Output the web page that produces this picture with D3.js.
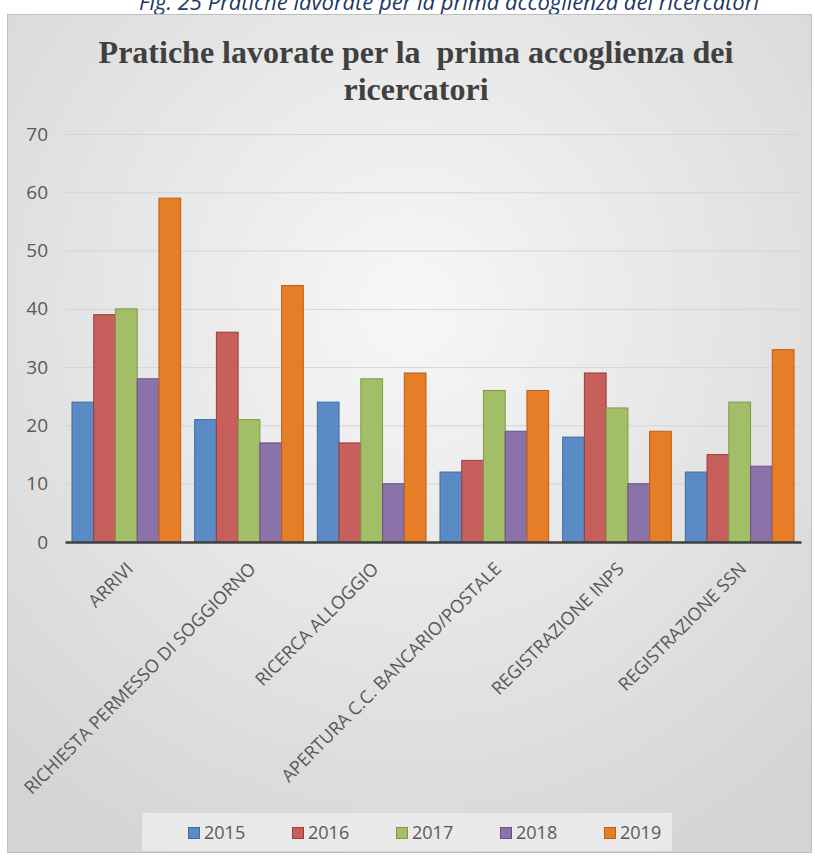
<!DOCTYPE html>
<html><head><meta charset="utf-8">
<script src="https://cdn.jsdelivr.net/npm/d3@7"></script>
<style>html,body{margin:0;padding:0;background:#fff;}svg{display:block;}</style>
</head><body>
<script>
const categories = ["ARRIVI","RICHIESTA PERMESSO DI SOGGIORNO","RICERCA ALLOGGIO","APERTURA C.C. BANCARIO/POSTALE","REGISTRAZIONE INPS","REGISTRAZIONE SSN"];
const years = ["2015","2016","2017","2018","2019"];
const v2015 = [24,21,24,12,18,12];
const v2016 = [39,36,17,14,29,15];
const v2017 = [40,21,28,26,23,24];
const v2018 = [28,17,10,19,10,13];
const v2019 = [59,44,29,26,19,33];
const yTicks = [0,10,20,30,40,50,60,70];
const series = [v2015,v2016,v2017,v2018,v2019];
const fills = ["#5B8BC5","#C75F5C","#A2BF68","#8B72A9","#E57E26"];
const strokes = ["#3E6C9E","#9E3C3A","#7C9B44","#6A5088","#B9601A"];

const W=815,H=857;
const svg=d3.select("body").append("svg").attr("width",W).attr("height",H);
const defs=svg.append("defs");
const rg=defs.append("radialGradient").attr("id","bg").attr("cx","50%").attr("cy","35%").attr("r","75%");
rg.append("stop").attr("offset","0%").attr("stop-color","#f7f7f7");
rg.append("stop").attr("offset","100%").attr("stop-color","#d4d4d4");

svg.append("text").attr("x",449).attr("y",10).attr("text-anchor","middle")
  .attr("font-family","Open Sans").attr("font-style","italic").attr("font-size",22).attr("fill","#1f3864")
  .text("Fig. 25 Pratiche lavorate per la prima accoglienza dei ricercatori");

svg.append("rect").attr("x",7.5).attr("y",14.5).attr("width",804).attr("height",838)
  .attr("fill","url(#bg)").attr("stroke","#bfbfbf");

svg.append("text").attr("x",416).attr("y",63).attr("text-anchor","middle")
  .attr("font-family","Liberation Serif").attr("font-weight","bold").attr("font-size",32).attr("fill","#404040")
  .style("white-space","pre")
  .text("Pratiche lavorate per la  prima accoglienza dei");
svg.append("text").attr("x",416).attr("y",100).attr("text-anchor","middle")
  .attr("font-family","Liberation Serif").attr("font-weight","bold").attr("font-size",32).attr("fill","#404040")
  .text("ricercatori");

const x0=65,x1=801,yTop=134,yBot=542;
const y=d3.scaleLinear().domain([0,70]).range([yBot,yTop]);
const xb=d3.scaleBand().domain(categories).range([x0,x1]).paddingInner(0.114).paddingOuter(0.057);
const xs=d3.scaleBand().domain(years).range([0,xb.bandwidth()]);

const gy=svg.append("g").attr("transform",`translate(${x0},0)`)
  .call(d3.axisLeft(y).tickValues(yTicks).tickSize(-(x1-x0)).tickPadding(17));
gy.select(".domain").remove();
gy.selectAll(".tick line").attr("stroke","#d4d4d4").attr("stroke-width",1);
gy.selectAll(".tick text").attr("font-family","Open Sans").attr("font-size",19).attr("fill","#595959");

categories.forEach((c,i)=>{
  const g=svg.append("g").attr("transform",`translate(${xb(c)},0)`);
  years.forEach((yr,j)=>{
    g.append("rect").attr("x",xs(yr)).attr("y",y(series[j][i])).attr("width",xs.bandwidth())
      .attr("height",yBot-y(series[j][i])).attr("fill",fills[j]).attr("stroke",strokes[j]).attr("stroke-width",1);
  });
});

const gx=svg.append("g").attr("transform",`translate(0,${yBot})`)
  .call(d3.axisBottom(xb).tickSize(0).tickPadding(0));
gx.select(".domain").attr("stroke","#404040").attr("stroke-width",2.5);
gx.selectAll(".tick text").attr("font-family","Open Sans").attr("font-size",18).attr("fill","#595959")
  .attr("text-anchor","end").attr("dy",0).attr("transform","translate(8,28) rotate(-45)");

const lg=svg.append("g");
lg.append("rect").attr("x",142).attr("y",813).attr("width",530).attr("height",38).attr("fill","#e9e9e9");
years.forEach((yr,j)=>{
  const lx=188+j*104;
  lg.append("rect").attr("x",lx+0.5).attr("y",827.5).attr("width",11).attr("height",11).attr("fill",fills[j]).attr("stroke",strokes[j]);
  lg.append("text").attr("x",lx+16).attr("y",839).attr("font-family","Open Sans").attr("font-size",18).attr("fill","#595959").text(yr);
});
</script>
</body></html>
